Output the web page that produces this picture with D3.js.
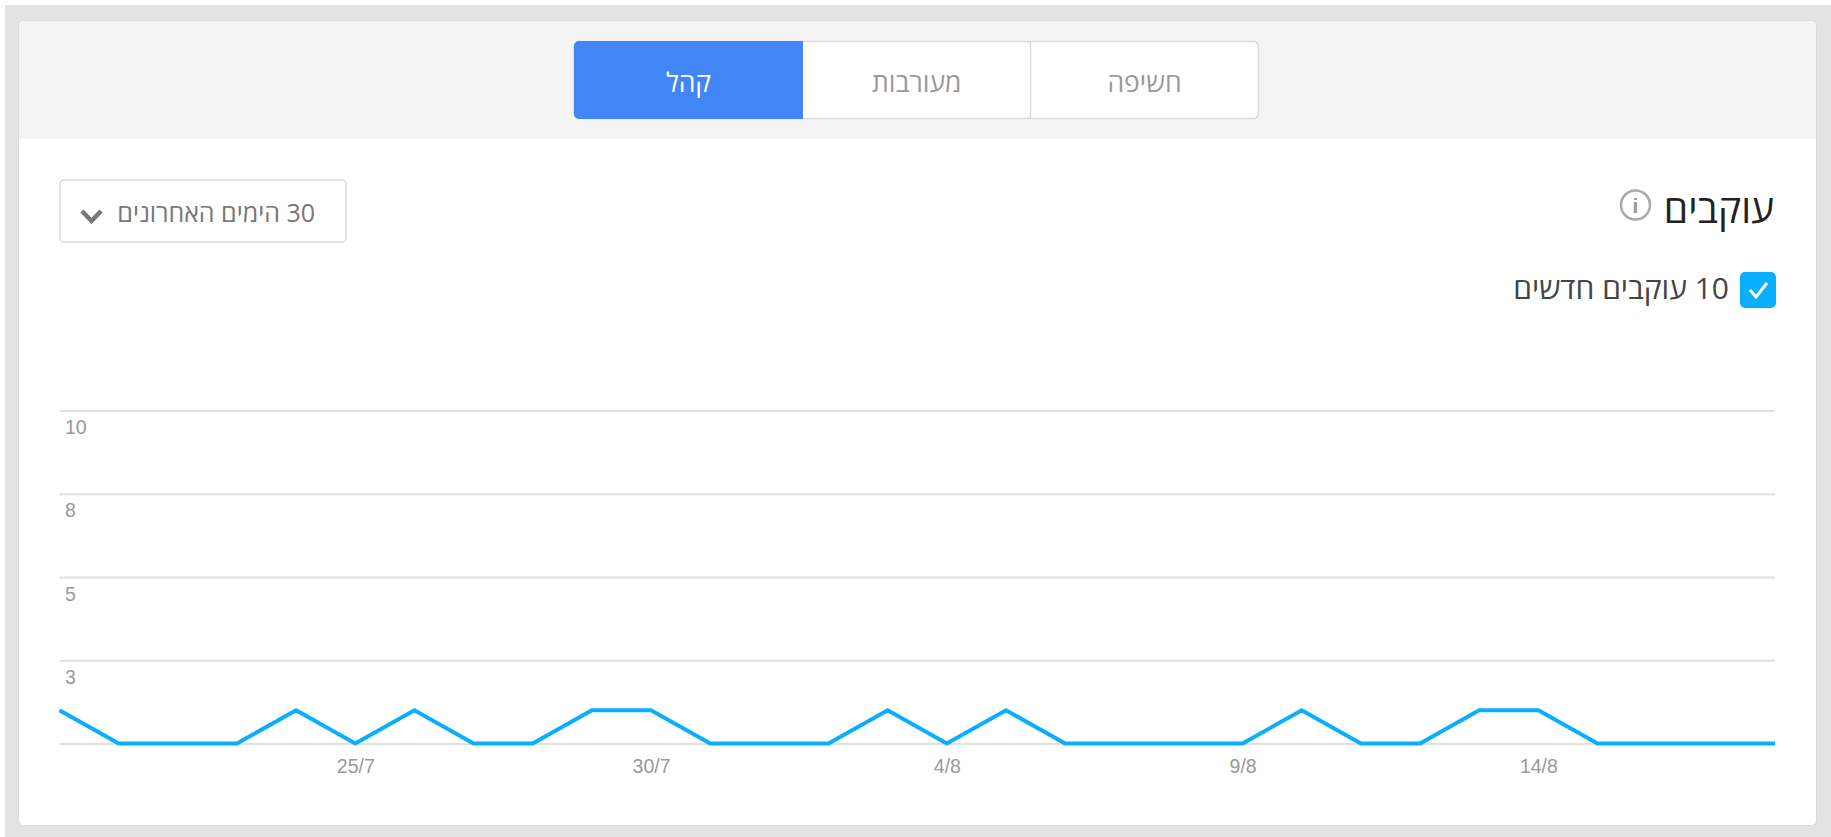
<!DOCTYPE html>
<html lang="he">
<head>
<meta charset="utf-8">
<title>עוקבים</title>
<script src="https://cdn.jsdelivr.net/npm/d3@7"></script>
<style>
  html, body { margin: 0; padding: 0; background: #fff; }
  svg { display: block; }
  text { font-family: "Liberation Sans", Arial, sans-serif; }
  .he { direction: rtl; font-family: "Open Sans", "Liberation Sans", sans-serif; }
</style>
</head>
<body>
<svg id="chart" width="1831" height="837"></svg>
<script>
// data
const days = ["20/7","21/7","22/7","23/7","24/7","25/7","26/7","27/7","28/7","29/7",
              "30/7","31/7","1/8","2/8","3/8","4/8","5/8","6/8","7/8","8/8",
              "9/8","10/8","11/8","12/8","13/8","14/8","15/8","16/8","17/8","18/8"];
const followers = [1,0,0,0,1,0,1,0,0,1,
                   1,0,0,0,1,0,1,0,0,0,
                   0,1,0,0,1,1,0,0,0,0];
const xTicks = ["25/7","30/7","4/8","9/8","14/8"];
const yTicks = [0,2.5,5,7.5,10];
const tabs = ["קהל","מעורבות","חשיפה"];
const title = "עוקבים";
const rangeLabel = "30 הימים האחרונים";
const legendLabel = "10 עוקבים חדשים";

const svg = d3.select("#chart");

// page + card
svg.append("rect").attr("x",5).attr("y",5).attr("width",1826).attr("height",832).attr("fill","#e3e3e3");
svg.append("rect").attr("x",18.5).attr("y",20.5).attr("width",1798).attr("height",805).attr("rx",5)
   .attr("fill","#fff").attr("stroke","#dadada");
svg.append("path").attr("d","M19 139V26a5 5 0 0 1 5-5H1811a5 5 0 0 1 5 5V139Z").attr("fill","#f4f4f4");

// tabs
const tabEdges = [574,803,1030.5,1258.5];
svg.append("rect").attr("x",574).attr("y",41.5).attr("width",684.5).attr("height",77).attr("rx",5)
   .attr("fill","#fff").attr("stroke","#dcdcdc").attr("stroke-width",1.5);
svg.append("path").attr("d","M803 41V119H579a5 5 0 0 1 -5 -5V46a5 5 0 0 1 5 -5Z").attr("fill","#4285f6");
svg.append("line").attr("x1",1030.5).attr("x2",1030.5).attr("y1",42).attr("y2",118).attr("stroke","#dcdcdc").attr("stroke-width",1.5);
svg.selectAll(".tab").data(tabs).enter().append("text")
   .attr("class","tab he")
   .attr("x",(d,i) => (tabEdges[i]+tabEdges[i+1])/2)
   .attr("y",92)
   .attr("text-anchor","middle")
   .attr("font-size",26.5)
   .attr("fill",(d,i) => i==0 ? "#fff" : "#999")
   .text(d => d);

// range dropdown
svg.append("rect").attr("x",60).attr("y",180).attr("width",286).attr("height",62).attr("rx",4)
   .attr("fill","#fff").attr("stroke","#dcdcdc").attr("stroke-width",1.5);
svg.append("path").attr("d","M82 211L91.5 221L101 211").attr("fill","none").attr("stroke","#777").attr("stroke-width",4.5);
svg.append("text").attr("class","he").attr("x",315).attr("y",222).attr("font-size",25)
   .attr("fill","#777").text(rangeLabel);

// title + info icon
svg.append("text").attr("class","he").attr("x",1774).attr("y",223).attr("font-size",39)
   .attr("font-weight",500).attr("fill","#222").text(title);
svg.append("circle").attr("cx",1635.5).attr("cy",205).attr("r",14.5).attr("fill","none").attr("stroke","#aaa").attr("stroke-width",2.5);
svg.append("text").attr("x",1635.5).attr("y",213).attr("text-anchor","middle").attr("font-size",21)
   .attr("font-weight","bold").attr("fill","#999").text("i");

// legend
svg.append("rect").attr("x",1740).attr("y",272).attr("width",36).attr("height",36).attr("rx",5).attr("fill","#0aaeff");
svg.append("path").attr("d","M1750 290L1756 297L1767 283").attr("fill","none").attr("stroke","#fff").attr("stroke-width",3);
svg.append("text").attr("class","he").attr("x",1729).attr("y",299).attr("font-size",30)
   .attr("fill","#444").text(legendLabel);

// scales
const x = d3.scalePoint().domain(days).range([59.5,1775]);
const y = d3.scaleLinear().domain([0,10]).range([743.5,410.5]);

// y axis, tick lines double as the grid
const yAxis = svg.append("g").attr("transform","translate(59.5,0)")
   .call(d3.axisRight(y).tickValues(yTicks).tickSize(1775-59.5).tickFormat(d => d==0 ? "" : d3.format(".0f")(Math.round(d))));
yAxis.select(".domain").remove();
yAxis.selectAll("line").attr("stroke","#e0e0e0").attr("stroke-width",2);
yAxis.selectAll("text")
   .attr("x",5.5).attr("y",0).attr("dy",23).attr("text-anchor","start")
   .attr("font-size",19.5).attr("font-family","Liberation Sans").attr("fill","#999");

// x axis
const xAxis = svg.append("g").attr("transform","translate(0,743.5)")
   .call(d3.axisBottom(x).tickValues(xTicks).tickSize(0).tickPadding(16));
xAxis.select(".domain").remove();
xAxis.selectAll("text").attr("font-size",19.5).attr("font-family","Liberation Sans").attr("fill","#999");

// series
const line = d3.line().x((d,i) => x(days[i])).y(d => y(d));
svg.append("path").datum(followers)
   .attr("d",line).attr("fill","none").attr("stroke","#0aaeff").attr("stroke-width",4);
</script>
</body>
</html>
